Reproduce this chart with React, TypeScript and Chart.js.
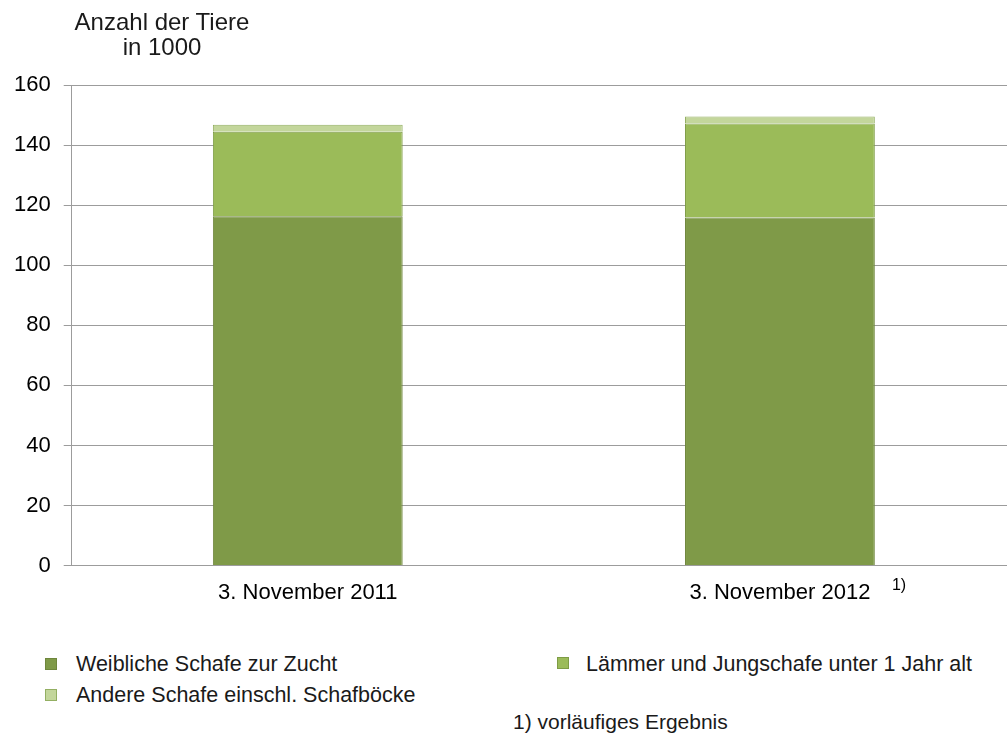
import React, { useEffect, useRef } from "react";
import { Chart, registerables } from "chart.js";

Chart.register(...registerables);

const categories = ["3. November 2011", "3. November 2012"];
const weiblicheZucht = [116.3, 115.9];
const laemmerJungschafe = [28.1, 31.3];
const andereSchafe = [2.4, 2.3];
const yTicks = [0, 20, 40, 60, 80, 100, 120, 140, 160];
const seriesLabels = [
  "Weibliche Schafe zur Zucht",
  "Lämmer und Jungschafe unter 1 Jahr alt",
  "Andere Schafe einschl. Schafböcke",
];
const footnoteMarker = "1)";
const footnoteText = "1) vorläufiges Ergebnis";
const yTitle = ["Anzahl der Tiere", "in 1000"];

const FONT = "'Liberation Sans', Arial, sans-serif";
const fills = ["#7F9A48", "#9BBB59", "#C3D69B"];
const borders = ["#6E863C", "#7E9C45", "#93AF62"];
const GRID = "#9C9C9C";

export default function App() {
  const ref = useRef<HTMLCanvasElement | null>(null);

  useEffect(() => {
    if (!ref.current) return;
    const footnotePlugin = {
      id: "footnoteMarker",
      afterDraw(chart: any) {
        const ctx = chart.ctx;
        const x = chart.scales.x.getPixelForValue(1);
        ctx.save();
        ctx.font = `16px ${FONT}`;
        ctx.fillStyle = "#000";
        ctx.textAlign = "left";
        ctx.textBaseline = "middle";
        ctx.fillText(footnoteMarker, x + 112, 586);
        ctx.restore();
      },
    };
    const chart = new Chart(ref.current, {
      type: "bar",
      data: {
        labels: categories,
        datasets: [weiblicheZucht, laemmerJungschafe, andereSchafe].map((d, i) => ({
          label: seriesLabels[i],
          data: d,
          backgroundColor: fills[i],
          borderColor: borders[i],
          borderWidth: 1,
          barPercentage: 1,
          categoryPercentage: 0.402,
        })),
      },
      options: {
        responsive: false,
        animation: false,
        devicePixelRatio: 1,
        layout: { padding: { top: 85, left: 1, right: 4, bottom: 0 } },
        plugins: { legend: { display: false }, tooltip: { enabled: false } },
        scales: {
          x: {
            stacked: true,
            grid: { display: false, drawTicks: false },
            border: { display: true, color: GRID },
            ticks: { padding: 14, color: "#000", font: { family: FONT, size: 22 } },
          },
          y: {
            stacked: true,
            min: 0,
            max: 160,
            afterBuildTicks(scale: any) {
              scale.ticks = yTicks.map((v) => ({ value: v }));
            },
            grid: { color: GRID, lineWidth: 1, tickLength: 8, drawTicks: true },
            border: { display: true, color: GRID },
            ticks: { padding: 13, color: "#000", font: { family: FONT, size: 22 } },
          },
        },
      },
      plugins: [footnotePlugin],
    });
    return () => chart.destroy();
  }, []);

  const txt: React.CSSProperties = {
    position: "absolute",
    fontFamily: FONT,
    fontSize: 21.5,
    color: "#1a1a1a",
    whiteSpace: "nowrap",
    lineHeight: "24px",
  };
  const sq = (i: number, left: number, top: number): React.CSSProperties => ({
    position: "absolute",
    left,
    top,
    width: 10,
    height: 10,
    background: fills[i],
    border: `1px solid ${borders[i]}`,
  });

  return (
    <div style={{ position: "absolute", left: 0, top: 0, width: 1007, height: 738, overflow: "hidden", background: "#fff" }}>
      <canvas ref={ref} width={1020} height={620} style={{ position: "absolute", left: 0, top: 0 }} />
      <div style={{ ...txt, left: 40, width: 244, top: 9, textAlign: "center", fontSize: 24, lineHeight: "25px" }}>
        {yTitle[0]}
        <br />
        {yTitle[1]}
      </div>
      <div style={sq(0, 45, 658)} />
      <div style={{ ...txt, left: 76, top: 652 }}>{seriesLabels[0]}</div>
      <div style={sq(1, 557, 657)} />
      <div style={{ ...txt, left: 586, top: 652 }}>{seriesLabels[1]}</div>
      <div style={sq(2, 45, 689)} />
      <div style={{ ...txt, left: 76, top: 683 }}>{seriesLabels[2]}</div>
      <div style={{ ...txt, left: 513, top: 710, fontSize: 21 }}>{footnoteText}</div>
    </div>
  );
}
